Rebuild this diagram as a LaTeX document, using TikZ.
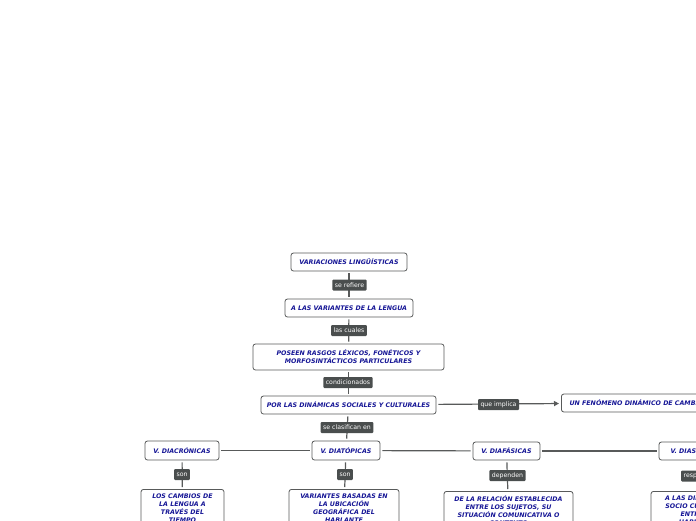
\documentclass[tikz,border=0pt]{standalone}
\usepackage{fontspec}
\usepackage{tikz}
\usetikzlibrary{arrows.meta}
\usetikzlibrary{positioning}
\newfontfamily\mapfont{DejaVu Sans}
\definecolor{mapblue}{RGB}{22,22,150}
\definecolor{mapline}{RGB}{88,90,90}
\definecolor{mapdark}{RGB}{74,78,78}
\tikzstyle{topic}=[draw=mapline, fill=white, rounded corners=2.5pt, line width=0.8pt,
    text=mapblue, font=\mapfont\fontsize{6.3}{8}\selectfont\bfseries\itshape,
    align=center, inner sep=2pt, minimum height=18pt]
\tikzstyle{desc}=[topic, anchor=north, inner ysep=4pt]
\tikzstyle{rel}=[fill=mapdark, rounded corners=1pt, text=white,
    font=\mapfont\fontsize{6.2}{7}\selectfont, inner xsep=2.5pt, inner ysep=1.5pt,
    minimum height=11pt]
\tikzstyle{link}=[draw=mapline, line width=1.2pt, shorten <=2pt, shorten >=2pt]

\begin{document}
\begin{tikzpicture}[x=1pt,y=-1pt]
              \useasboundingbox (0,0) rectangle (696,520);
              \clip (0,0) rectangle (696,520);
              % main column
              \node[topic, minimum width=116pt] (var) at (349,262){VARIACIONES LINGÜÍSTICAS};
              \node[topic, minimum width=128pt] (vari) at (349,308){A LAS VARIANTES DE LA LENGUA};
              \node[topic, minimum width=191pt, minimum height=26pt] (ras) at (348.5,357){POSEEN RASGOS LÉXICOS, FONÉTICOS Y\\MORFOSINTÁCTICOS PARTICULARES};
              \node[topic, minimum width=175pt] (din) at (348.5,405){POR LAS DINÁMICAS SOCIALES Y CULTURALES};
              \node[topic, anchor=west, minimum width=150pt] (fen) at (561,403){UN FENÓMENO DINÁMICO DE CAMBIO};
              % kinds
              \node[topic, minimum width=74pt, minimum height=19pt] (dcr) at (182,450.5){V. DIACRÓNICAS};
              \node[topic, minimum width=68pt, minimum height=19pt] (dtp) at (346,450.5){V. DIATÓPICAS};
              \node[topic, minimum width=67pt] (dfs) at (506.5,451){V. DIAFÁSICAS};
              \node[topic, minimum width=83pt] (dst) at (700.5,451){V. DIASTRÁTICAS};
              % descriptions
              \node[desc, minimum width=83pt] (cam) at (182.5,489){LOS CAMBIOS DE\\LA LENGUA A\\TRAVÉS DEL\\TIEMPO};
              \node[desc, minimum width=110pt] (geo) at (344,489){VARIANTES BASADAS EN\\LA UBICACIÓN\\GEOGRÁFICA DEL\\HABLANTE};
              \node[desc, minimum width=129pt] (sit) at (508.5,491){DE LA RELACIÓN ESTABLECIDA\\ENTRE LOS SUJETOS, SU\\SITUACIÓN COMUNICATIVA O\\CONTEXTO};
              \node[desc, minimum width=98pt] (soc) at (700,491){A LAS DIFERENCIAS\\SOCIO CULTURALES\\ENTRE LOS\\HABLANTES};
              % connectors
              \draw[link](var) -- (vari);
              \draw[link](vari) -- (ras);
              \draw[link](ras) -- (din);
              \draw[link](din) -- (dtp);
              \draw[link, -{Triangle[length=5pt,width=5pt]}](din) -- (fen);
              \draw[link](dcr) -- (dtp);
              \draw[link](dtp) -- (dfs);
              \draw[link](dfs) -- (dst);
              \draw[link](dcr) -- (cam);
              \draw[link](dtp) -- (geo);
              \draw[link](dfs) -- (sit);
              \draw[link](dst) -- (soc);
              % linking words
              \node[rel] (r0) at (349.5,285){se refiere};
              \node[rel] (r1) at (349,330.5){las cuales};
              \node[rel] (r2) at (348,382.5){condicionados};
              \node[rel] (r3) at (347,427.5){se clasifican en};
              \node[rel] (r4) at (498.5,404.5){que implica};
              \node[rel] (r5) at (182,474.5){son};
              \node[rel] (r6) at (345,474.5){son};
              \node[rel] (r7) at (507.5,475.5){dependen};
              \node[rel] (r8) at (700,476){responden};
            \end{tikzpicture}
\end{document}
